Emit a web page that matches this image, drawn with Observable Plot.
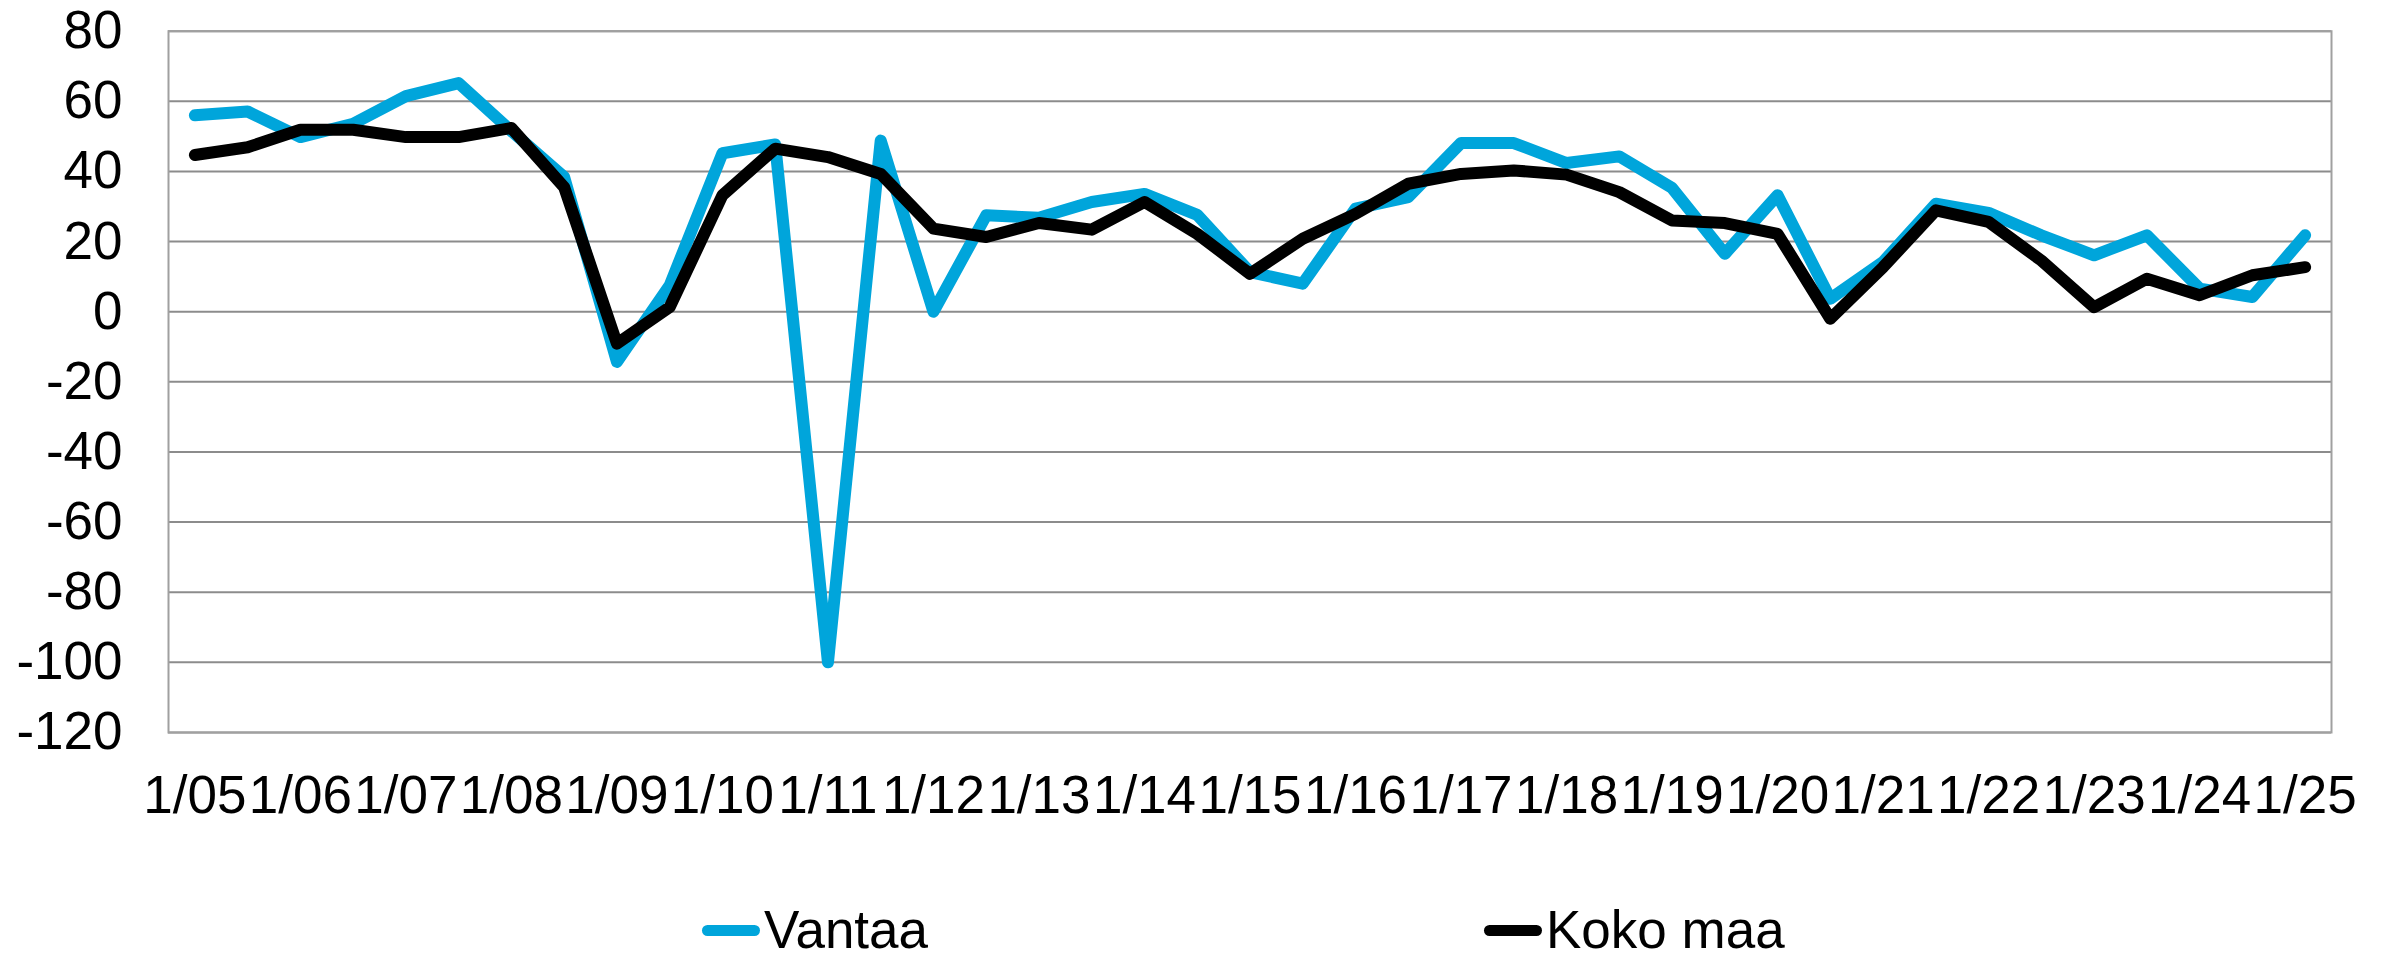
<!DOCTYPE html>
<html>
<head>
<meta charset="utf-8">
<script src="https://cdn.jsdelivr.net/npm/d3@7"></script>
<script src="https://cdn.jsdelivr.net/npm/@observablehq/plot@0.6"></script>
<style>
  html, body { margin: 0; padding: 0; background: #fff; }
  #wrap { position: relative; width: 2389px; height: 955px; font-family: "Liberation Sans", Arial, sans-serif; }
  #legend { position: absolute; left: 0; top: 900px; width: 2389px; height: 55px; }
  .item { position: absolute; top: 0; display: flex; align-items: center; font-size: 53px; color: #000; line-height: 60px; }
  .sw { width: 58px; height: 11px; border-radius: 6px; margin-right: 4px; }
</style>
</head>
<body>
<div id="wrap">
  <div id="chart"></div>
  <div id="legend"></div>
</div>
<script>
const periods = [
  "1/05","7/05","1/06","7/06","1/07","7/07","1/08","7/08","1/09","7/09",
  "1/10","7/10","1/11","7/11","1/12","7/12","1/13","7/13","1/14","7/14",
  "1/15","7/15","1/16","7/16","1/17","7/17","1/18","7/18","1/19","7/19",
  "1/20","7/20","1/21","7/21","1/22","7/22","1/23","7/23","1/24","7/24","1/25"
];
const vantaa = [
  56.0, 57.1, 49.8, 53.6, 61.5, 65.2, 51.5, 38.4, -14.3, 7.5,
  45.2, 47.7, -100.0, 48.8, 0.0, 27.5, 26.8, 31.3, 33.6, 27.6,
  11.3, 8.0, 29.4, 32.7, 48.1, 48.1, 42.4, 44.3, 35.3, 16.5,
  33.2, 3.7, 14.2, 30.8, 28.2, 21.8, 16.1, 21.8, 6.6, 4.2, 21.8
];
const kokoMaa = [
  44.7, 46.9, 51.9, 51.9, 49.8, 49.8, 52.4, 35.5, -9.1, 1.3,
  33.2, 46.5, 44.1, 39.3, 23.7, 21.3, 25.3, 23.4, 31.3, 22.2,
  10.8, 20.8, 27.9, 36.5, 39.3, 40.3, 39.1, 34.1, 26.0, 25.3,
  22.2, -2.0, 12.7, 28.9, 25.6, 14.6, 1.3, 9.4, 4.7, 10.4, 12.7
];
const yTicks = [80, 60, 40, 20, 0, -20, -40, -60, -80, -100, -120];
const xTickLabels = ["1/05","1/06","1/07","1/08","1/09","1/10","1/11","1/12","1/13","1/14",
  "1/15","1/16","1/17","1/18","1/19","1/20","1/21","1/22","1/23","1/24","1/25"];
const seriesNames = ["Vantaa", "Koko maa"];
const seriesColors = ["#00a5db", "#000000"];

const rows = [];
periods.forEach((p, i) => {
  rows.push({period: p, value: vantaa[i], series: seriesNames[0]});
});
periods.forEach((p, i) => {
  rows.push({period: p, value: kokoMaa[i], series: seriesNames[1]});
});

const gridColor = "#8c8c8c";
const chart = Plot.plot({
  width: 2389,
  height: 880,
  marginTop: 30.7,
  marginBottom: 148,
  marginLeft: 168,
  marginRight: 58,
  style: {fontFamily: "'Liberation Sans', Arial, sans-serif", background: "#fff", color: "#000"},
  x: {type: "point", domain: periods, padding: 0.5},
  y: {domain: [-120, 80]},
  color: {domain: seriesNames, range: seriesColors},
  marks: [
    Plot.gridY(yTicks, {stroke: gridColor, strokeOpacity: 1, strokeWidth: 2}),
    Plot.frame({stroke: "#a0a0a0", strokeOpacity: 1, strokeWidth: 2}),
    Plot.axisY({ticks: yTicks, tickSize: 0, tickPadding: 46, fontSize: 53, label: null, tickFormat: d => String(d)}),
    Plot.axisX({ticks: xTickLabels, tickSize: 0, tickPadding: 43, fontSize: 53, label: null}),
    Plot.lineY(rows, {x: "period", y: "value", z: "series", stroke: "series", strokeWidth: 12,
      strokeLinejoin: "round", strokeLinecap: "round"})
  ]
});
document.getElementById("chart").appendChild(chart);

const legend = document.getElementById("legend");
const legendLefts = [702, 1484];
seriesNames.forEach((name, i) => {
  const it = document.createElement("div");
  it.className = "item";
  it.style.left = legendLefts[i] + "px";
  const sw = document.createElement("div");
  sw.className = "sw";
  sw.style.background = seriesColors[i];
  const tx = document.createElement("span");
  tx.textContent = name;
  it.appendChild(sw);
  it.appendChild(tx);
  legend.appendChild(it);
});
</script>
</body>
</html>
